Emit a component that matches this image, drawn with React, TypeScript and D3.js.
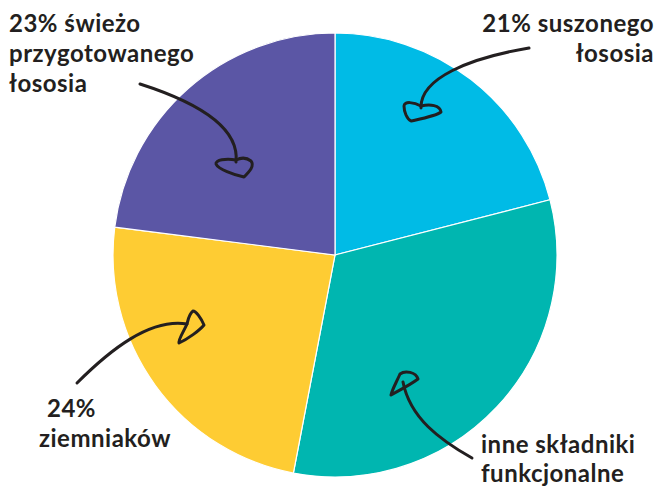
import React from "react";
import * as d3 from "d3";

const categories = ["suszony łosoś", "inne składniki funkcjonalne", "ziemniaki", "świeżo przygotowany łosoś"];
const values = [21, 32, 24, 23];
const colors = ["#00BBE6", "#00B6B0", "#FECC33", "#5B56A5"];

const labelLines: string[][] = [
  ["21% suszonego", "łososia"],
  ["inne składniki", "funkcjonalne"],
  ["24%", "ziemniaków"],
  ["23% świeżo", "przygotowanego", "łososia"],
];
// label layout (annotation positions)
const labelPos = [
  { x: 653, y: 32, anchor: "end", dy: 30, xs: [654, 654] },
  { x: 481, y: 453, anchor: "start", dy: 29, xs: [481, 481] },
  { x: 47, y: 417, anchor: "start", dy: 30, xs: [47, 39] },
  { x: 9, y: 32, anchor: "start", dy: 30, xs: [9, 9, 9] },
];
const arrowPaths = [
  // cyan
  "M529,48 C470,58 420,78 421,108",
  "M421,106 C414,102 404,101 404,106 C404,112 407,119 411,121 C420,119 436,116 441,112 C440,105 430,104 421,106",
  // teal
  "M472,458 C440,440 410,418 403,382",
  "M400,374 C396,383 392,390 391,395 C398,391 410,385 418,379 C416,372 405,370 400,374",
  // yellow
  "M77,383 C110,350 150,318 187,324",
  "M187,324 C184,331 178,340 179,343 C188,339 200,330 204,325 C201,318 196,311 193,311 C189,314 188,320 187,324",
  // purple
  "M140,84 C190,100 240,125 236,162",
  "M236,160 C226,158 215,160 216,164 C218,169 234,175 244,177 C249,172 255,166 251,161 C246,157 240,158 236,160",
];

export default function App() {
  const width = 657;
  const height = 488;
  const cx = 335;
  const cy = 255;
  const r = 222;
  const pie = d3.pie<number>().sort(null).value((d) => d);
  const arcs = pie(values);
  const arc = d3.arc<d3.PieArcDatum<number>>().innerRadius(0).outerRadius(r);
  return (
    <svg width={width} height={height} style={{ position: "absolute", left: 0, top: 0, background: "#fff" }}>
      <g transform={`translate(${cx},${cy})`}>
        {arcs.map((a, i) => (
          <path key={categories[i]} d={arc(a) || ""} fill={colors[i]} stroke="#fff" strokeWidth={1.2} />
        ))}
      </g>
      {arrowPaths.map((p, i) => (
        <path key={i} d={p} fill="none" stroke="#231f20" strokeWidth={3} strokeLinecap="round" strokeLinejoin="round" />
      ))}
      {labelLines.map((lines, i) => (
        <text
          key={i}
          textAnchor={labelPos[i].anchor as any}
          fontFamily="Lato, sans-serif"
          fontWeight={700}
          fontSize={24}
          letterSpacing={0.5}
          fill="#231f20"
        >
          {lines.map((t, j) => (
            <tspan key={j} x={labelPos[i].xs[j]} y={labelPos[i].y + j * labelPos[i].dy}>
              {t}
            </tspan>
          ))}
        </text>
      ))}
    </svg>
  );
}
